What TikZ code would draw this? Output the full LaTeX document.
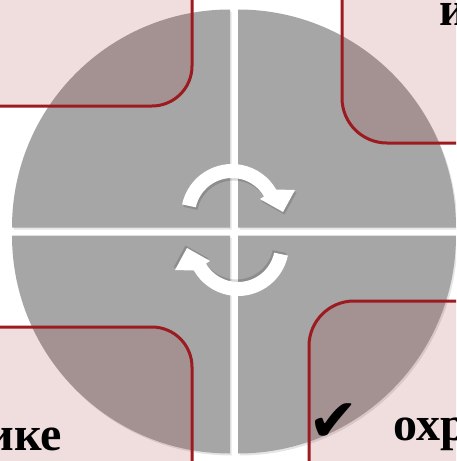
\documentclass[tikz,border=0pt]{standalone}
\usepackage{fontspec}
\usetikzlibrary{calc}
\setmainfont{Liberation Serif}
\newfontfamily\symfont{DejaVu Sans}
\definecolor{quadgray}{HTML}{A6A6A6}
\definecolor{boxred}{HTML}{9C1B20}
\tikzset{
  quad/.style={fill=quadgray},
  quadshadow/.style={fill=black, opacity=0.10},
  pinkbox/.style={draw=boxred, line width=3pt, fill=boxred, fill opacity=0.15},
  cyclearrow/.style={fill=white},
  arrowshadow/.style={fill=black, opacity=0.15},
  bigtext/.style={inner sep=0pt, font=\bfseries\fontsize{48}{48}\selectfont},
  checktext/.style={inner sep=0pt, font=\symfont\bfseries\fontsize{60}{60}\selectfont}
}
\begin{document}
\begin{tikzpicture}[x=1pt, y=-1pt]
\clip (0,0) rectangle (456,461);
\fill[white] (0,0) rectangle (456,461);
% quadrant shadows
\begin{scope}[shift={(1.5,2)}]
\fill[quadshadow] (230,227.5) -- (12,227.5) arc[start angle=180, end angle=270, radius=218] -- cycle;
\fill[quadshadow] (238,227.5) -- (238,9.5) arc[start angle=270, end angle=360, radius=218] -- cycle;
\fill[quadshadow] (238,235.5) -- (456,235.5) arc[start angle=0, end angle=90, radius=218] -- cycle;
\fill[quadshadow] (230,235.5) -- (230,453.5) arc[start angle=90, end angle=180, radius=218] -- cycle;
\end{scope}
% quadrants
\fill[quad] (230,227.5) -- (12,227.5) arc[start angle=180, end angle=270, radius=218] -- cycle;
\fill[quad] (238,227.5) -- (238,9.5) arc[start angle=270, end angle=360, radius=218] -- cycle;
\fill[quad] (238,235.5) -- (456,235.5) arc[start angle=0, end angle=90, radius=218] -- cycle;
\fill[quad] (230,235.5) -- (230,453.5) arc[start angle=90, end angle=180, radius=218] -- cycle;
% cycle arrows
\foreach \rot in {0,180}{
  \begin{scope}[rotate around={\rot:(235,230)}]
    \begin{scope}[shift={(1.5,2.5)}]
      \fill[arrowshadow] (232,215) ++(192:51) arc[start angle=192, end angle=330, radius=51]
        -- (295,190) -- (283,212) -- (260,199)
        -- ($(232,215)+(330:37)$) arc[start angle=330, end angle=192, radius=37] -- cycle;
    \end{scope}
    \fill[cyclearrow] (232,215) ++(192:51) arc[start angle=192, end angle=330, radius=51]
      -- (295,190) -- (283,212) -- (260,199)
      -- ($(232,215)+(330:37)$) arc[start angle=330, end angle=192, radius=37] -- cycle;
  \end{scope}
}
% boxes
\draw[pinkbox, rounded corners=40pt] (-150,-150) rectangle (192,106);
\draw[pinkbox, rounded corners=45pt] (342,-150) rectangle (600,143);
\draw[pinkbox, rounded corners=40pt] (-150,327) rectangle (192,600);
\draw[pinkbox, rounded corners=45pt] (309,301) rectangle (600,600);
% texts
\node[bigtext, anchor=base west] (ttr) at (439,25) {и};
\node[bigtext, anchor=base east] (tbl) at (62,450) {ике};
\node[bigtext, anchor=base west] (tbr) at (393,440) {охр};
\node[checktext] (chk) at (334,423) {✔};
\end{tikzpicture}
\end{document}
